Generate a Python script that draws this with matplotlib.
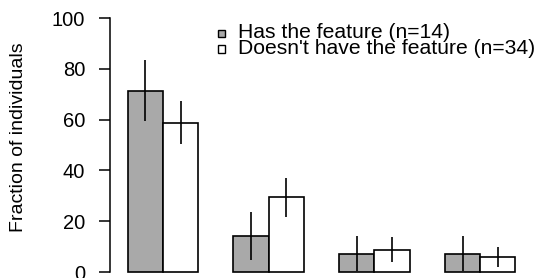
import matplotlib
matplotlib.use("Agg")
import matplotlib.pyplot as plt
from matplotlib.patches import Rectangle
import numpy as np

plt.rcParams['font.family'] = ['Liberation Sans', 'DejaVu Sans']

# Data (percent of individuals)
groups = ["A", "B", "C", "D"]
has_feature = [71.4, 14.3, 7.1, 7.1]
no_feature = [58.8, 29.4, 8.8, 5.9]
err_has = [12.1, 9.4, 6.9, 6.9]
err_no = [8.4, 7.8, 4.9, 4.0]
legend_labels = ["Has the feature (n=14)", "Doesn't have the feature (n=34)"]
yticks = [0, 20, 40, 60, 80, 100]

W, H = 537, 278
fig = plt.figure(figsize=(W / 100, H / 100), dpi=100)
ax_l, ax_r, ax_t, ax_b = 110, 531, 18, 272
ax = fig.add_axes([ax_l / W, (H - ax_b) / H, (ax_r - ax_l) / W, (ax_b - ax_t) / H])

gray = "#a9a9a9"
n = len(groups)
left_has = np.arange(n) * 3 + 1.0
left_no = left_has + 1.0
ax.bar(left_has, has_feature, width=1.0, align='edge', color=gray,
       edgecolor='black', linewidth=1.2, clip_on=False)
ax.bar(left_no, no_feature, width=1.0, align='edge', color='white',
       edgecolor='black', linewidth=1.2, clip_on=False)
ax.errorbar(left_has + 0.5, has_feature, yerr=err_has, fmt='none',
            ecolor='black', elinewidth=1.2, capsize=0, clip_on=False)
ax.errorbar(left_no + 0.5, no_feature, yerr=err_no, fmt='none',
            ecolor='black', elinewidth=1.2, capsize=0, clip_on=False)

ax.set_xlim(0.498, 12.44)
ax.set_ylim(0, 100)
for s in ['top', 'right', 'bottom']:
    ax.spines[s].set_visible(False)
ax.spines['left'].set_linewidth(1.1)
ax.spines['left'].set_bounds(0, 100)
ax.set_xticks([])
ax.set_yticks(yticks)
ax.set_yticklabels([str(t) for t in yticks])
ax.tick_params(axis='y', direction='out', length=8, width=1.1, pad=10,
               labelsize=14.5)
ax.set_ylabel("Fraction of individuals", fontsize=14)
ax.yaxis.set_label_coords(-(ax_l - 27) / (ax_r - ax_l), (ax_b - 137) / (ax_b - ax_t))

# Legend drawn manually
baselines = [38.3, 54.3]
sq_centers = [33.3, 49.0]
fills = [gray, 'white']
sq = 7.5
for yb, yc, f, lab in zip(baselines, sq_centers, fills, legend_labels):
    fig.patches.append(Rectangle((217.5 / W, (H - yc - sq / 2) / H), sq / W, sq / H,
                                 transform=fig.transFigure, facecolor=f,
                                 edgecolor='black', linewidth=1.0))
    fig.text(238 / W, (H - yb) / H, lab, fontsize=15.2, va='baseline', ha='left')

fig.savefig("out.png", dpi=100)
